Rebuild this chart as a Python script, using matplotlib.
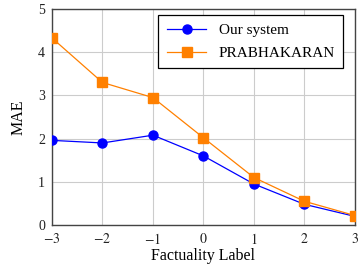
import matplotlib
matplotlib.use("Agg")
import matplotlib.pyplot as plt

# factuality labels and MAE per system
labels = [-3, -2, -1, 0, 1, 2, 3]
ours = [1.96, 1.90, 2.08, 1.60, 0.95, 0.48, 0.20]
prabhakaran = [4.33, 3.30, 2.95, 2.02, 1.10, 0.55, 0.22]

plt.rcParams["font.family"] = ["Liberation Serif", "DejaVu Serif"]
plt.rcParams["mathtext.fontset"] = "stix"

fig = plt.figure(figsize=(3.61, 2.66), dpi=100)
ax = fig.add_axes([0.144, 0.154, 0.839, 0.812])

ax.plot(labels, ours, color="blue", marker="o", markersize=6.5, lw=0.9,
        label="Our system", zorder=3)
ax.plot(labels, prabhakaran, color="#ff8000", marker="s", markersize=6.5, lw=0.9,
        label="PRABHAKARAN", zorder=3)

ax.set_xlim(-3, 3)
ax.set_ylim(0, 5)
ax.set_xticks(labels)
ax.set_xticklabels([f"${v}$" if v >= 0 else f"$-{abs(v)}$" for v in labels])
ax.set_yticks(range(6))
ax.grid(True, color="#cccccc", lw=0.8)
ax.set_axisbelow(True)
ax.tick_params(labelsize=10, length=0, pad=5, colors="#222222")
for s in ax.spines.values():
    s.set_color("#444444")
    s.set_linewidth(1.0)

ax.set_xlabel("Factuality Label", fontsize=11.5, labelpad=1)
ax.set_ylabel("MAE", fontsize=11.5, labelpad=8)

leg = ax.legend(loc="upper right", bbox_to_anchor=(0.962, 0.972), fontsize=11,
                fancybox=False, framealpha=1, edgecolor="black",
                borderaxespad=0, handlelength=2.6, labelspacing=0.6,
                borderpad=0.55, handletextpad=0.8)
leg.get_frame().set_linewidth(0.9)

fig.savefig("out.png", dpi=100)
